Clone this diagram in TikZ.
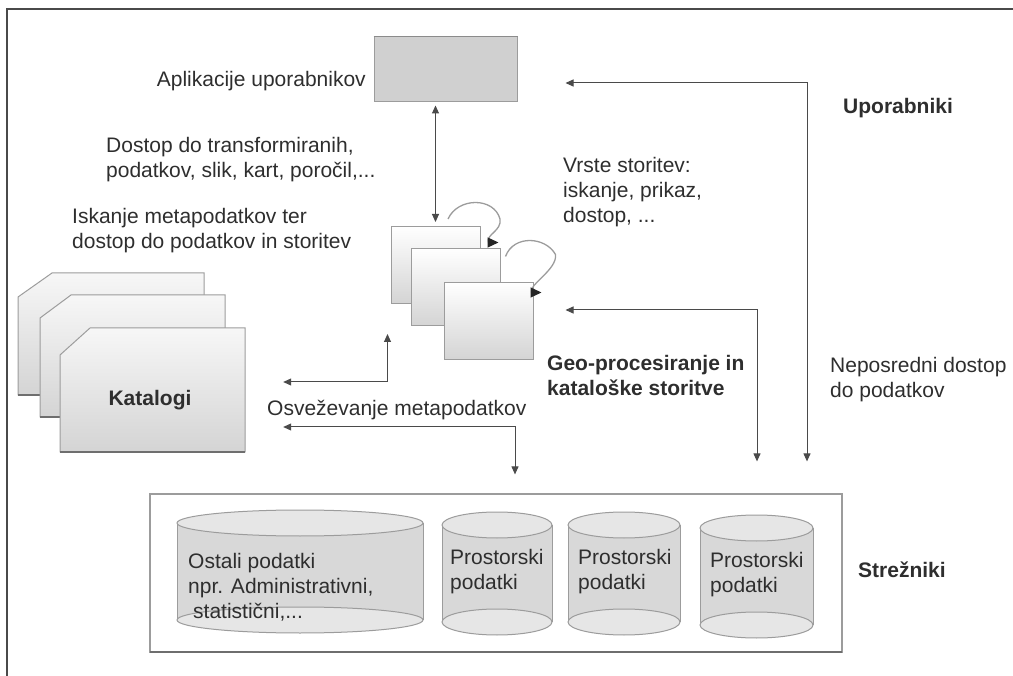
\documentclass[tikz,border=0pt]{standalone}
\usepackage{fontspec}
\setmainfont{Liberation Sans}
\usepackage{xcolor}
\usetikzlibrary{positioning,arrows.meta}
\definecolor{ink}{HTML}{2E2E2E}
\definecolor{wire}{HTML}{4A4A4A}
\definecolor{rim}{HTML}{9C9C9C}
\definecolor{shadow}{HTML}{6E6E6E}
\definecolor{appfill}{HTML}{D0D0D0}
\definecolor{sheet}{HTML}{F7F7F7}
\definecolor{sheetlow}{HTML}{D4D4D4}
\definecolor{drum}{HTML}{D8D8D8}
\definecolor{drumtop}{HTML}{E6E6E6}

\begin{document}
\begin{tikzpicture}[x=1pt,y=-1pt,
  lbl/.style={font=\fontsize{21}{25}\selectfont,text=ink,inner sep=0pt,align=left,anchor=west},
  hdr/.style={lbl,font=\fontsize{21}{25}\selectfont\bfseries},
  svc/.style={draw=rim,line width=1pt,top color=white,bottom color=sheetlow,minimum width=89pt,minimum height=77pt,inner sep=0pt},
  page/.style={draw=rim,line width=1pt,top color=sheet,bottom color=sheetlow},
  drumbody/.style={fill=drum,draw=rim,line width=1pt},
  drumlid/.style={fill=drumtop,draw=rim,line width=1pt},
  arr/.style={-{Triangle[length=8pt,width=7pt]},color=wire,line width=1pt},
  hook/.style={-{Triangle[length=11pt,width=10pt,color=black!85]},draw=rim,line width=1.3pt},
  dbl/.style={{Triangle[length=8pt,width=7pt]}-{Triangle[length=8pt,width=7pt]},color=wire,line width=1pt}]
\useasboundingbox (0,0) rectangle (1013,676);
\draw[wire,line width=1.3pt] (7,676) -- (7,9) -- (1013,9);

% uporabniki
\node[draw=rim,fill=appfill,line width=1pt,minimum width=143pt,minimum height=65pt,inner sep=0pt] (app) at (445.5,69.5) {};
\draw[shadow!80,line width=1.5pt] (app.north west) -- (app.north east);
\node[lbl,anchor=east] (applbl) at (366,81) {Aplikacije uporabnikov};
\node[lbl] (dostop) at (106,160) {Dostop do transformiranih,\\podatkov, slik, kart, poročil,...};
\node[lbl] (iskanje) at (72,231) {Iskanje metapodatkov ter\\dostop do podatkov in storitev};
\node[lbl] (vrste) at (563,192) {Vrste storitev:\\iskanje, prikaz,\\dostop, ...};
\node[hdr] (upor) at (843,108) {Uporabniki};

% storitve
\node[svc] (svc1) at (435.5,265) {};
\node[svc] (svc2) at (455.5,287.5) {};
\node[svc] (svc3) at (488.5,321) {};
\node[hdr] (geo) at (547,375) {Geo-procesiranje in\\kataloške storitve};
\node[lbl] (neposr) at (830,380) {Neposredni dostop\\do podatkov};

% katalogi
\draw[page] (18,297) -- (52,273) -- (204,273) -- (204,395) -- (18,395) -- cycle;
\draw[shadow,line width=2pt] (18,395) -- (204,395);
\draw[page] (40,318) -- (71,295) -- (225,295) -- (225,417) -- (40,417) -- cycle;
\draw[shadow,line width=2pt] (40,417) -- (225,417);
\draw[page] (60,355) -- (90,328) -- (245,328) -- (245,452) -- (60,452) -- cycle;
\draw[shadow,line width=2pt] (60,452) -- (245,452);
\node[minimum width=185pt,minimum height=124pt,inner sep=0pt] (kat) at (152.5,390) {};
\node[hdr,anchor=center] (katlbl) at (150,400) {Katalogi};
\node[lbl] (osvez) at (267,410) {Osveževanje metapodatkov};

% strezniki
\node[draw=rim,fill=white,line width=1.2pt,minimum width=692pt,minimum height=158pt,inner sep=0pt] (servers) at (496,573) {};
\draw[shadow,line width=2pt] (150,652) -- (842,652);
\fill[drum] (177,523) rectangle (423,620);
\draw[rim,line width=1pt] (177,523) -- (177,620) (423,523) -- (423,620);
\draw[drumlid] (300,620) ellipse [x radius=123,y radius=13];
\draw[drumlid] (300,523) ellipse [x radius=123,y radius=13];
\fill[drum] (442,525) rectangle (552,622);
\draw[rim,line width=1pt] (442,525) -- (442,622) (552,525) -- (552,622);
\draw[drumlid] (497,622) ellipse [x radius=55,y radius=13];
\draw[drumlid] (497,525) ellipse [x radius=55,y radius=13];
\fill[drum] (568,525) rectangle (680,622);
\draw[rim,line width=1pt] (568,525) -- (568,622) (680,525) -- (680,622);
\draw[drumlid] (624,622) ellipse [x radius=56,y radius=13];
\draw[drumlid] (624,525) ellipse [x radius=56,y radius=13];
\fill[drum] (700,528) rectangle (813,625);
\draw[rim,line width=1pt] (700,528) -- (700,625) (813,528) -- (813,625);
\draw[drumlid] (756.5,625) ellipse [x radius=56.5,y radius=13];
\draw[drumlid] (756.5,528) ellipse [x radius=56.5,y radius=13];
\node[lbl] (ostali) at (188,587) {Ostali podatki\\npr. Administrativni,\\\hspace*{5pt}statistični,...};
\node[lbl] (pros1) at (450,572) {Prostorski\\podatki};
\node[lbl] (pros2) at (578,572) {Prostorski\\podatki};
\node[lbl] (pros3) at (710,575) {Prostorski\\podatki};
\node[hdr] (strez) at (858,570) {Strežniki};

% povezave
\draw[dbl,shorten <=3pt,shorten >=4pt] (svc1.north |- app.south) -- (svc1.north);
\draw[hook] ([xshift=12.5pt,yshift=7pt]svc1.north) .. controls +(10,-22) and +(-6,-22) .. ++(52,0)
  .. controls +(2,12) and +(-3,-8) .. ([xshift=-12pt,yshift=6pt]svc2.north east) -- ++(10,0);
\draw[hook] ([xshift=5pt,yshift=-8pt]svc2.north east) .. controls +(8,-22) and +(-10,-18) .. ++(50,-2)
  .. controls +(2,15) and +(-3,-8) .. ([xshift=-2pt,yshift=-10.5pt]svc3.north east) -- ++(10,0);
\draw[dbl] ([xshift=48pt,yshift=-13.5pt]app.east) -| ([xshift=311pt,yshift=32pt]servers.north);
\draw[dbl] ([xshift=32pt,yshift=11pt]svc3.east) -| ([xshift=261pt,yshift=32pt]servers.north);
\draw[dbl] ([xshift=-3pt,yshift=-30pt]svc1.south west) |- ([xshift=38pt,yshift=8pt]kat.east);
\draw[dbl] ([xshift=38pt,yshift=-37pt]kat.east) -| ([xshift=19pt,yshift=19pt]servers.north);
\end{tikzpicture}
\end{document}
